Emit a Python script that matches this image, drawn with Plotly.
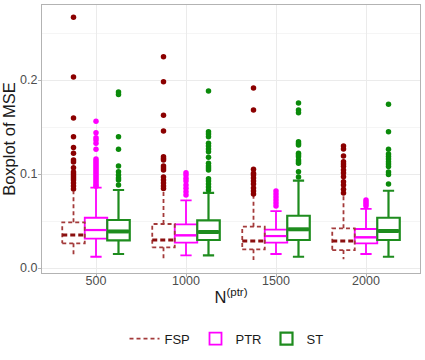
import plotly.graph_objects as go

# boxplot stats
n_labels = ['500', '1000', '1500', '2000']

fsp_q1 = [0.0263, 0.0220, 0.0199, 0.0191]
fsp_med = [0.0351, 0.0298, 0.0287, 0.0287]
fsp_q3 = [0.0486, 0.0468, 0.0440, 0.0422]
fsp_lo = [0.0120, 0.0085, 0.0085, 0.0092]
fsp_hi = [0.0815, 0.0825, 0.0765, 0.0765]
fsp_out = [
    [0.2667, 0.2032, 0.1596, 0.1397, 0.1282, 0.1220, 0.1149, 0.1128, 0.1067,
     0.1021, 0.1000, 0.0979, 0.0957, 0.0936, 0.0904, 0.0872, 0.0840],
    [0.2248, 0.1982, 0.1624, 0.1457, 0.1184, 0.1165, 0.1149, 0.1085, 0.1064,
     0.1043, 0.0968, 0.0936, 0.0904, 0.0872, 0.0845],
    [0.1915, 0.1681, 0.1050, 0.1007, 0.0989, 0.0957, 0.0926, 0.0894, 0.0851,
     0.0819, 0.0787],
    [0.1298, 0.1266, 0.1191, 0.1131, 0.1106, 0.1082, 0.1043, 0.1011, 0.0971,
     0.0918, 0.0883, 0.0837, 0.0798],
]

ptr_q1 = [0.0312, 0.0270, 0.0270, 0.0263]
ptr_med = [0.0404, 0.0348, 0.0340, 0.0327]
ptr_q3 = [0.0535, 0.0465, 0.0408, 0.0415]
ptr_lo = [0.0120, 0.0135, 0.0149, 0.0149]
ptr_hi = [0.0855, 0.0720, 0.0605, 0.0630]
ptr_out = [
    [0.1561, 0.1439, 0.1386, 0.1362, 0.1327, 0.1263, 0.1160, 0.1138, 0.1117,
     0.1096, 0.1074, 0.1053, 0.1032, 0.1011, 0.0989, 0.0968, 0.0947, 0.0926,
     0.0904, 0.0883, 0.0870],
    [0.1014, 0.0989, 0.0954, 0.0926, 0.0883, 0.0848, 0.0812, 0.0777],
    [0.0819, 0.0787, 0.0755, 0.0723, 0.0691, 0.0660],
    [0.0723, 0.0702, 0.0681, 0.0660],
]

st_q1 = [0.0295, 0.0298, 0.0298, 0.0298]
st_med = [0.0389, 0.0383, 0.0412, 0.0394]
st_q3 = [0.0511, 0.0507, 0.0556, 0.0535]
st_lo = [0.0149, 0.0135, 0.0120, 0.0120]
st_hi = [0.0830, 0.0800, 0.0930, 0.0822]
st_out = [
    [0.1872, 0.1846, 0.1397, 0.1263, 0.1085, 0.1024, 0.0989, 0.0957, 0.0936,
     0.0883],
    [0.1883, 0.1450, 0.1426, 0.1397, 0.1327, 0.1298, 0.1266, 0.1237, 0.1178,
     0.1114, 0.1085, 0.1064, 0.1043, 0.0950, 0.0926, 0.0894, 0.0862, 0.0830],
    [0.1755, 0.1681, 0.1652, 0.1344, 0.1324, 0.1309, 0.1220, 0.1202, 0.1184,
     0.1149, 0.1131, 0.1114, 0.1024, 0.0968],
    [0.1741, 0.1450, 0.1263, 0.1213, 0.1186, 0.1160, 0.1131, 0.1106, 0.1080,
     0.1021, 0.0995, 0.0894],
]

BW = 0.25          # width of one box (dodge of 0.75 shared by 3 groups)
FONT = 'Liberation Sans, Arial, sans-serif'

fig = go.Figure()


def outliers(off, out, color):
    xs, ys = [], []
    for i, vals in enumerate(out):
        xs += [i + off] * len(vals)
        ys += vals
    fig.add_trace(go.Scatter(x=xs, y=ys, mode='markers', showlegend=False,
                             hoverinfo='skip',
                             marker=dict(color=color, size=5.5)))


# FSP: dashed box drawn as lines, plotly boxes have no dash option
off = -BW
xs, ys = [], []
mx, my = [], []
for i in range(len(n_labels)):
    c = i + off
    l, r = c - BW / 2, c + BW / 2
    xs += [l, r, r, l, l, None, c, c, None, c, c, None]
    ys += [fsp_q1[i], fsp_q1[i], fsp_q3[i], fsp_q3[i], fsp_q1[i], None,
           fsp_q3[i], fsp_hi[i], None, fsp_q1[i], fsp_lo[i], None]
    mx += [l, r, None]
    my += [fsp_med[i], fsp_med[i], None]
fig.add_trace(go.Scatter(x=xs, y=ys, mode='lines', name='FSP',
                         line=dict(color='#a33a3a', width=1.8, dash='4px,3px')))
fig.add_trace(go.Scatter(x=mx, y=my, mode='lines', showlegend=False,
                         line=dict(color='#8b1010', width=3, dash='5px,3px')))
outliers(off, fsp_out, '#8b0000')

# PTR and ST as real box traces
for name, off, q1, med, q3, lo, hi, out, col, pcol, lw, mw in [
    ('PTR', 0.0, ptr_q1, ptr_med, ptr_q3, ptr_lo, ptr_hi, ptr_out,
     '#ff00ff', '#ff00ff', 1.8, 2.2),
    ('ST', BW, st_q1, st_med, st_q3, st_lo, st_hi, st_out,
     '#1e8c1e', '#0a8a0a', 2.2, 4.0),
]:
    xpos = [i + off for i in range(len(n_labels))]
    fig.add_trace(go.Box(x=xpos, q1=q1, median=med, q3=q3,
                         lowerfence=lo, upperfence=hi, name=name,
                         width=BW, fillcolor='white',
                         line=dict(color=col, width=lw), hoverinfo='skip'))
    mx, my = [], []
    for i, c in enumerate(xpos):
        mx += [c - BW / 2 + 0.01, c + BW / 2 - 0.01, None]
        my += [med[i], med[i], None]
    fig.add_trace(go.Scatter(x=mx, y=my, mode='lines', showlegend=False,
                             hoverinfo='skip', line=dict(color=col, width=mw)))
    outliers(off, out, pcol)

fig.update_layout(
    width=425, height=360,
    margin=dict(l=42, r=5, t=5, b=87),
    plot_bgcolor='white', paper_bgcolor='white',
    font=dict(family=FONT, size=12, color='#4d4d4d'),
    legend=dict(orientation='h', x=0.5, xanchor='center', y=-0.245,
                yanchor='middle', font=dict(size=13, color='#1a1a1a'),
                itemwidth=30, traceorder='normal',
                entrywidth=26, entrywidthmode='pixels'),
)
fig.update_xaxes(
    range=[-0.6, 3.6], tickvals=list(range(len(n_labels))), ticktext=n_labels,
    showgrid=True, gridcolor='#ebebeb', gridwidth=1, zeroline=False,
    showline=True, linecolor='#b3b3b3', linewidth=1, mirror=True,
    ticks='outside', ticklen=3, tickcolor='#b3b3b3',
    ticklabelstandoff=-7,
    tickfont=dict(size=12.5, color='#4d4d4d'),
    title=dict(text='N<sup>(ptr)</sup>', standoff=4,
               font=dict(size=16.5, color='#1a1a1a')),
)
fig.update_yaxes(
    range=[-0.0053, 0.2798], tickvals=[0, 0.1, 0.2],
    ticktext=['0.0', '0.1', '0.2'],
    showgrid=True, gridcolor='#ebebeb', gridwidth=1, zeroline=False,
    minor=dict(dtick=0.05, tick0=0, showgrid=True, gridcolor='#f5f5f5',
               gridwidth=0.6),
    showline=True, linecolor='#b3b3b3', linewidth=1, mirror=True,
    ticks='outside', ticklen=3, tickcolor='#b3b3b3',
    ticklabelstandoff=-2,
    tickfont=dict(size=12.5, color='#4d4d4d'),
    title=dict(text='Boxplot of MSE', standoff=4,
               font=dict(size=16.5, color='#1a1a1a')),
)

# page body has an 8px default margin; drop it so the figure sits at 0,0
fig.write_html("out.html", config={'displayModeBar': False},
               post_script="document.body.style.margin='0';")
